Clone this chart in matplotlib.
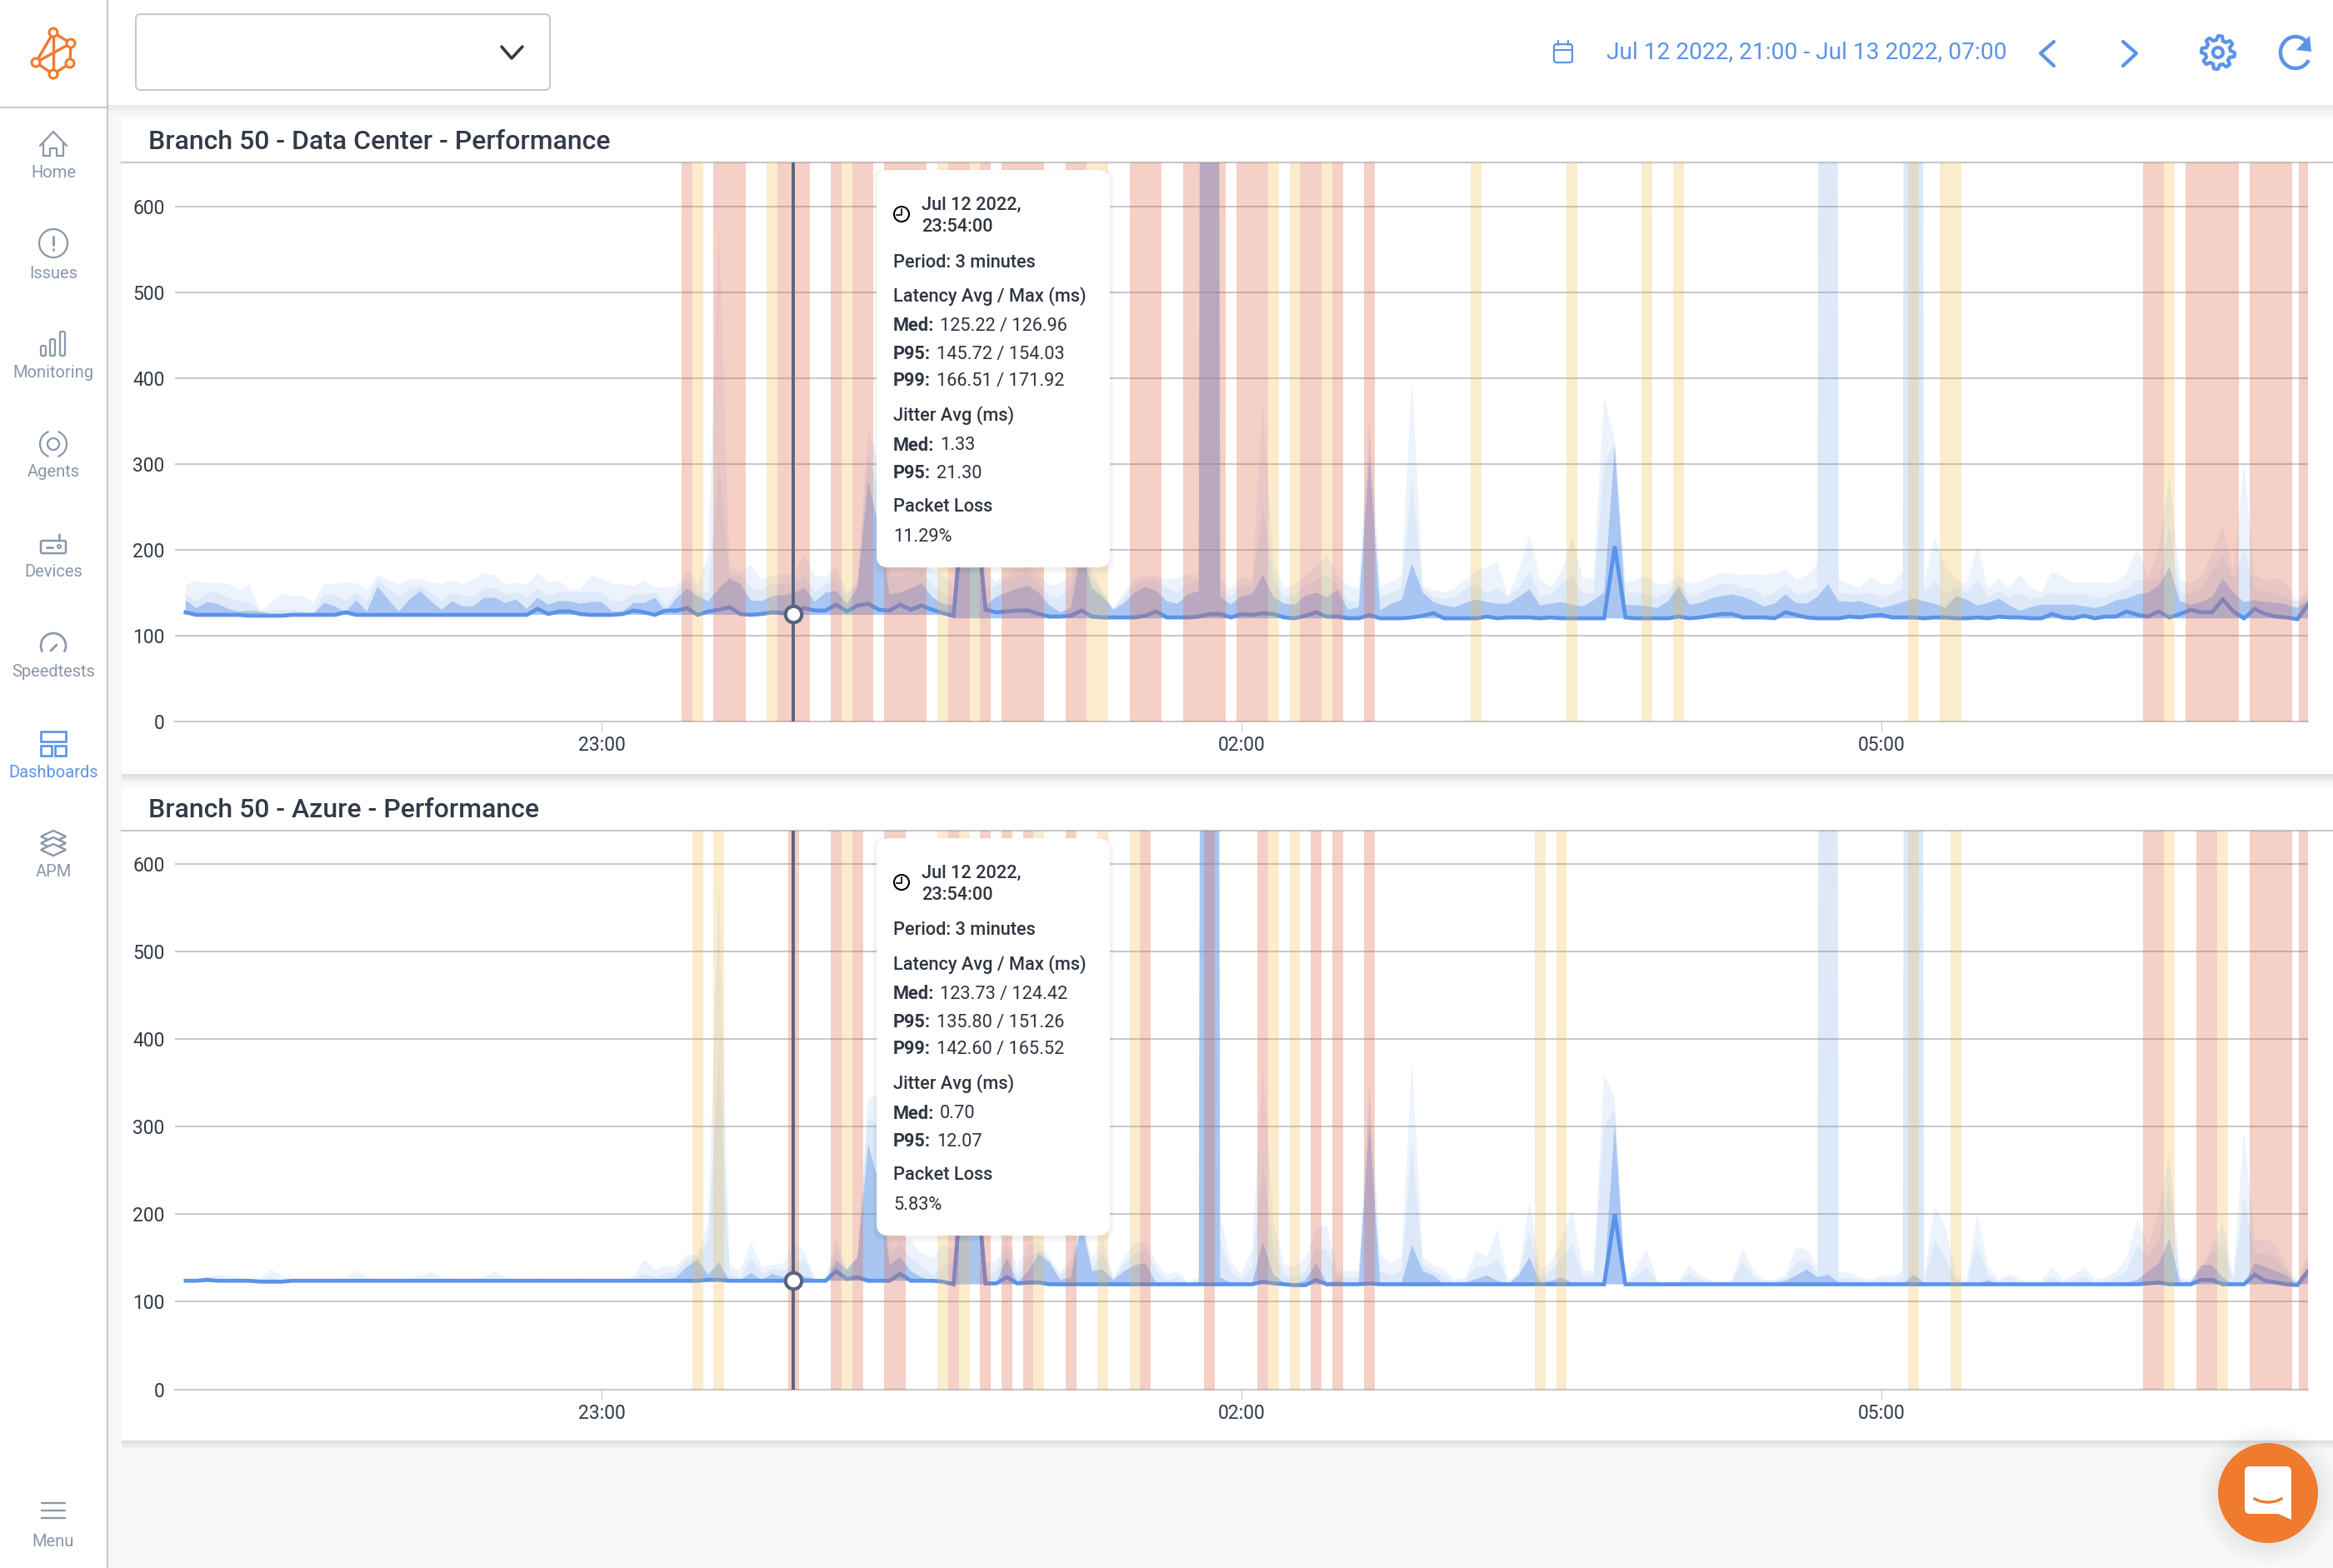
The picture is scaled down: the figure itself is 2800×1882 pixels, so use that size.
import matplotlib
matplotlib.use("Agg")
import matplotlib.pyplot as plt
from matplotlib.patches import Rectangle, Circle, FancyBboxPatch, Polygon, Arc
import numpy as np

plt.rcParams['font.family'] = ['Roboto', 'DejaVu Sans']

W, H = 2800, 1882

# sample times, minutes after 21:00
times = np.arange(3, 601, 3)

# Data Center latency, one row per hour
dc_line = [
    127,124,124,124,124,124,123,123,123,123,124,124,124,124,124,127,124,124,124,124,
    124,124,124,124,124,124,124,124,124,124,124,124,124,131,125,128,128,125,124,124,
    124,125,129,127,124,129,129,132,124,128,130,133,125,124,125,127,126,125,132,129,
    129,136,128,135,137,130,129,136,130,135,130,126,123,260,260,130,127,128,129,129,
    125,122,122,123,129,122,121,121,121,121,123,128,121,121,121,122,125,125,121,125,
    124,126,125,121,120,123,127,122,122,120,120,124,120,120,120,121,123,126,120,120,
    120,120,122,120,121,121,121,120,121,120,120,120,120,120,204,121,120,120,120,120,
    122,120,121,123,125,125,121,121,121,120,127,124,121,120,120,120,122,121,123,124,
    121,121,121,120,121,121,120,120,121,120,122,121,121,120,120,125,121,120,123,120,
    122,122,128,124,122,128,121,125,130,127,127,142,128,120,131,125,122,121,119,136,
]
dc_low = [
    141,132,139,137,131,128,129,128,125,125,125,125,125,138,134,127,141,128,157,142,
    128,142,152,140,130,140,134,134,144,144,138,142,131,144,136,140,140,137,139,139,
    128,128,138,138,144,128,143,155,146,140,155,167,160,141,140,146,147,149,156,139,
    150,152,137,156,281,225,148,150,155,161,145,137,135,300,300,135,145,150,155,158,
    150,135,127,132,200,155,145,130,138,150,157,152,140,137,148,152,6000,145,136,146,
    148,171,145,137,136,146,150,145,153,130,133,308,129,137,141,184,150,139,135,133,
    138,142,139,137,137,145,154,135,137,139,136,134,141,150,320,136,135,134,132,140,
    157,136,138,143,146,148,145,140,134,137,148,138,137,145,160,140,139,140,136,132,
    135,139,143,140,137,132,146,142,135,138,143,135,129,133,136,136,136,136,134,132,
    135,141,143,148,150,158,180,140,136,139,145,166,150,139,141,139,138,136,132,141,
]
dc_mid = [
    148,140,150,150,144,140,138,128,128,130,130,128,127,148,147,140,150,140,165,155,
    145,155,158,150,140,150,146,145,155,155,148,150,145,155,146,150,150,150,150,150,
    140,140,148,148,150,135,150,165,150,150,300,170,170,155,152,160,160,160,170,150,
    160,165,145,165,310,265,170,170,172,175,160,150,145,340,340,155,158,165,170,172,
    160,145,145,155,210,165,150,132,145,160,165,165,155,150,160,165,6000,155,145,160,
    155,250,165,145,148,158,165,170,160,140,140,330,145,150,155,280,155,145,142,145,
    155,160,150,155,145,155,175,145,148,160,170,150,148,300,325,150,150,148,145,150,
    162,145,150,155,160,160,155,155,145,150,160,148,150,155,6000,150,148,148,150,145,
    148,155,6000,150,165,148,155,150,165,145,152,145,150,142,145,150,148,148,148,145,
    145,150,155,165,165,165,225,150,148,155,175,195,165,200,155,150,150,145,138,146,
]
dc_high = [
    159,164,161,161,160,153,160,128,138,149,146,145,139,160,160,162,161,152,170,165,
    160,166,166,162,160,164,160,165,172,170,160,161,159,173,162,164,153,154,170,166,
    160,160,157,164,156,156,157,176,160,193,580,178,174,182,165,170,171,171,194,169,
    169,180,150,160,341,300,200,190,190,190,178,170,157,400,400,175,162,172,178,180,
    170,158,161,170,230,175,150,130,150,167,170,170,165,167,171,170,6000,165,155,169,
    164,373,185,155,160,170,180,194,170,158,155,355,157,162,170,401,157,153,150,155,
    165,176,180,185,146,175,218,165,157,175,215,167,165,378,329,162,165,169,160,160,
    170,160,163,168,173,172,170,172,170,172,178,165,170,183,6000,165,160,156,169,160,
    160,175,6000,160,215,180,165,160,204,155,167,155,171,155,150,174,168,162,162,162,
    161,162,173,201,170,200,287,165,160,170,195,227,175,299,170,165,167,160,141,153,
]

# Azure latency, one row per hour
az_line = [
    124,124,125,124,124,124,124,123,123,123,124,124,124,124,124,124,124,124,124,124,
    124,124,124,124,124,124,124,124,124,124,124,124,124,124,124,124,124,124,124,124,
    124,124,124,124,124,124,124,124,124,125,125,124,124,124,124,124,124,124,124,124,
    124,135,126,128,124,124,124,132,124,124,124,123,120,260,260,121,121,128,121,122,
    122,120,120,120,120,120,120,120,120,120,120,120,120,120,120,120,120,120,120,120,
    120,123,121,120,119,119,125,120,120,120,120,121,120,120,120,120,120,120,120,120,
    120,120,120,120,120,120,120,120,120,120,120,120,120,120,200,120,120,120,120,120,
    120,120,120,120,120,120,120,120,120,120,120,120,120,120,120,120,120,120,120,120,
    120,120,120,120,120,120,120,120,120,120,120,120,120,120,120,120,120,120,120,120,
    120,120,120,120,121,122,120,120,120,125,125,120,120,120,131,124,122,120,119,135,
]
az_low = [
    124,124,125,124,124,124,124,124,125,124,124,124,124,124,124,124,125,124,124,124,
    124,124,124,124,124,125,124,124,124,124,124,124,124,124,124,124,124,124,124,124,
    124,124,124,124,124,125,128,140,148,131,145,124,124,133,125,132,128,136,129,126,
    124,147,137,150,280,235,142,151,135,128,124,124,122,300,300,122,122,150,122,135,
    155,145,125,128,190,135,137,125,135,142,144,122,120,120,120,122,6000,128,122,121,
    122,169,131,122,120,125,144,122,124,121,122,304,121,120,121,165,135,130,120,120,
    122,126,130,124,120,130,151,122,124,128,122,121,120,122,304,120,120,120,120,120,
    120,120,120,120,121,120,121,120,120,122,124,130,137,128,131,122,121,122,121,120,
    120,120,131,122,121,120,122,121,121,125,120,122,120,120,120,121,120,120,120,120,
    121,121,122,125,135,144,172,122,122,142,142,128,120,121,144,140,135,130,120,137,
]
az_mid = [
    124,126,127,126,125,124,125,125,128,125,124,124,125,124,124,125,127,125,124,124,
    124,124,124,124,125,127,125,124,125,124,125,124,124,124,125,124,124,124,124,124,
    124,124,125,132,128,132,135,148,150,170,380,132,126,150,132,138,135,143,148,126,
    125,160,135,152,310,300,155,165,150,140,130,140,145,340,340,130,135,160,130,150,
    160,148,130,140,192,140,155,127,142,155,160,135,125,128,121,125,6000,170,135,125,
    140,260,160,130,128,135,160,160,130,128,128,330,135,130,135,280,142,135,128,122,
    125,140,140,150,122,132,180,128,135,150,165,130,128,300,320,121,130,140,122,121,
    122,132,126,123,122,123,145,128,123,124,127,145,148,132,6000,128,126,124,123,125,
    122,128,6000,123,170,150,125,122,165,130,122,127,122,122,122,128,122,125,128,122,
    124,128,135,165,150,170,235,125,123,140,155,165,125,220,155,155,150,135,122,146,
]
az_high = [
    124,127,129,131,130,128,126,127,137,130,126,125,126,125,126,127,136,128,125,124,
    125,127,130,134,128,125,124,126,128,135,128,126,125,127,126,125,126,127,125,126,
    125,125,128,148,137,141,141,154,153,190,572,142,135,169,140,142,144,166,158,126,
    126,172,137,153,333,335,172,175,170,155,150,165,160,400,400,144,146,174,140,165,
    169,150,134,150,195,150,171,128,150,167,170,145,131,135,122,128,6000,199,147,131,
    160,370,194,142,140,150,183,188,135,135,135,354,153,144,151,376,151,142,137,125,
    128,158,151,183,124,135,215,135,145,170,206,137,135,360,331,123,140,160,124,122,
    123,142,130,125,123,125,162,135,125,125,130,162,160,140,6000,135,133,128,125,131,
    128,135,6000,125,210,185,130,124,201,140,125,132,125,124,124,140,125,130,140,125,
    128,135,150,195,165,200,270,128,125,135,165,190,130,295,170,172,165,140,124,155,
]

# floor of the filled areas before and after the latency step
floor_early = 124
floor_late = 120
floor_step = 219

# threshold bands (start, end), minutes after 21:00
dc_red = [(142.5,145.5),(151.5,160.5),(169.5,178.5),(184.5,187.5),(190.5,196.5),(199.5,211.5),
          (217.5,223.5),(226.5,229.5),(232.5,244.5),(250.5,256.5),(268.5,277.5),(283.5,295.5),
          (298.5,307.5),(316.5,322.5),(325.5,328.5),(334.5,337.5),(553.5,559.5),(565.5,580.5),
          (583.5,595.5),(597.5,600)]
dc_yellow = [(145.5,148.5),(166.5,169.5),(187.5,190.5),(214.5,217.5),(223.5,226.5),(256.5,262.5),
             (307.5,310.5),(313.5,316.5),(322.5,325.5),(364.5,367.5),(391.5,394.5),(412.5,415.5),
             (421.5,424.5),(487.5,490.5),(496.5,502.5),(559.5,562.5)]
az_red = [(172.5,175.5),(184.5,187.5),(190.5,193.5),(199.5,205.5),(217.5,220.5),(226.5,229.5),
          (232.5,235.5),(238.5,241.5),(250.5,253.5),(271.5,274.5),(289.5,292.5),(304.5,307.5),
          (319.5,322.5),(325.5,328.5),(334.5,337.5),(553.5,559.5),(568.5,574.5),(583.5,595.5),
          (597.5,600)]
az_yellow = [(145.5,148.5),(151.5,154.5),(187.5,190.5),(214.5,217.5),(220.5,223.5),(241.5,244.5),
             (259.5,262.5),(268.5,271.5),(307.5,310.5),(313.5,316.5),(382.5,385.5),(388.5,391.5),
             (487.5,490.5),(499.5,502.5),(559.5,562.5),(574.5,577.5)]

y_ticks = [0, 100, 200, 300, 400, 500, 600]
x_ticks = [120, 300, 480]
x_tick_labels = ['23:00', '02:00', '05:00']
cursor_time = 174

dc_tip = ['125.22 / 126.96', '145.72 / 154.03', '166.51 / 171.92', '1.33', '21.30', '11.29%']
az_tip = ['123.73 / 124.42', '135.80 / 151.26', '142.60 / 165.52', '0.70', '12.07', '5.83%']

nav_items = ['Home', 'Issues', 'Monitoring', 'Agents', 'Devices', 'Speedtests', 'Dashboards', 'APM', 'Menu']
nav_label_y = [207, 328, 447, 567, 687, 807, 927, 1047, 1850]

BLUE = '#5b93e8'
GREY = '#8a97a8'
DARK = '#333b48'
RULE = '#c9c9c9'
ORANGE = '#f07a2e'
CURSOR = '#56657c'


def add_chart(top, bottom, ymax, line, low, mid, high, red, yellow):
    pos = [210 / W, 1 - bottom / H, 2560 / W, (bottom - top) / H]
    ax = fig.add_axes(pos, facecolor='none', zorder=2)
    floor = np.where(times < floor_step, floor_early, floor_late)
    ax.fill_between(times, floor, high, color=BLUE, alpha=0.11, lw=0, zorder=2)
    ax.fill_between(times, floor, mid, color=BLUE, alpha=0.10, lw=0, zorder=2)
    ax.fill_between(times, floor, low, color=BLUE, alpha=0.40, lw=0, zorder=2)
    ax.plot(times, line, color=BLUE, lw=3.4, solid_joinstyle='miter', zorder=3)
    for a, b in red:
        ax.axvspan(a, b, color='#e16446', alpha=0.30, lw=0, zorder=4)
    for a, b in yellow:
        ax.axvspan(a, b, color='#f0b43c', alpha=0.25, lw=0, zorder=4)
    ax.axvline(cursor_time, color=CURSOR, lw=2.8, zorder=5)
    i = list(times).index(cursor_time)
    ax.plot([cursor_time], [line[i]], 'o', ms=14, mfc='white', mec=CURSOR, mew=3, zorder=6)
    ax.set_xlim(0, 600)
    ax.set_ylim(0, ymax)
    ax.set_yticks(y_ticks)
    ax.set_xticks(x_ticks)
    ax.set_xticklabels(x_tick_labels)
    ax.grid(axis='y', color=RULE, lw=1.5, zorder=1)
    ax.set_axisbelow(True)
    ax.tick_params(axis='y', length=0, pad=9, labelsize=16.5, labelcolor=DARK)
    ax.tick_params(axis='x', length=8.5, width=0.8, color=RULE, pad=4, labelsize=16.5, labelcolor=DARK)
    for s in ax.spines.values():
        s.set_visible(False)
    ax.spines['bottom'].set_visible(True)
    ax.spines['bottom'].set_color(RULE)
    ax.spines['bottom'].set_linewidth(1.5)
    return ax


def shadow_strip(ax, x0, x1, y, n=6, step=2, base=0.05):
    for k in range(n):
        ax.add_patch(Rectangle((x0, y + k * step), x1 - x0, step, fc='black', ec='none',
                               alpha=base * (n - k) / n))


def add_tooltip(ax, dy, values):
    for k in range(5, 0, -1):
        ax.add_patch(FancyBboxPatch((1052 - k, 204 + dy - k + 3), 280 + 2 * k, 477 + 2 * k,
                                    boxstyle='round,pad=0,rounding_size=14', fc='black', ec='none', alpha=0.012))
    ax.add_patch(FancyBboxPatch((1052, 204 + dy), 280, 477,
                                boxstyle='round,pad=0,rounding_size=14', fc='white', ec='none'))
    # clock
    ax.add_patch(Circle((1082, 257 + dy), 9, fc='white', ec='black', lw=1.5))
    ax.plot([1082, 1082, 1076], [251 + dy, 258 + dy, 258 + dy], color='black', lw=1.2)
    fs = 15.7
    t = dict(fontsize=fs, color='#2f3540', va='center', ha='left')
    ax.text(1106, 246 + dy, 'Jul 12 2022,', fontweight='medium', **t)
    ax.text(1106, 272 + dy, '23:54:00', fontweight='medium', **t)
    ax.text(1072, 315 + dy, 'Period: 3 minutes', fontweight='medium', **t)
    ax.text(1072, 356 + dy, 'Latency Avg / Max (ms)', fontweight='medium', **t)
    for y, lab, x, val in [(391, 'Med:', 1128, values[0]), (425, 'P95:', 1124, values[1]),
                           (457, 'P99:', 1124, values[2]), (535, 'Med:', 1128, values[3]),
                           (568, 'P95:', 1124, values[4])]:
        ax.text(1072, y + dy, lab, fontweight='bold', **t)
        ax.text(x, y + dy, val, **t)
    ax.text(1072, 499 + dy, 'Jitter Avg (ms)', fontweight='medium', **t)
    ax.text(1072, 608 + dy, 'Packet Loss', fontweight='medium', **t)
    ax.text(1072, 644 + dy, values[5], **t)


def stroke(ax, xs, ys, color=GREY, lw=1.6, **kw):
    ax.plot(xs, ys, color=color, lw=lw, solid_capstyle='round', solid_joinstyle='round', **kw)


fig = plt.figure(figsize=(W / 100, H / 100), dpi=100, facecolor='#f7f8f8')

# page furniture underneath the charts
page = fig.add_axes([0, 0, 1, 1], zorder=0)
page.set_xlim(0, W)
page.set_ylim(H, 0)
page.axis('off')
page.add_patch(Rectangle((146, 142), W - 146, 787, fc='white', ec='none'))
page.add_patch(Rectangle((146, 945), W - 146, 784, fc='white', ec='none'))
shadow_strip(page, 146, W, 929, n=5, base=0.10)
shadow_strip(page, 146, W, 1729, n=5, base=0.10)
page.plot([146, W], [195, 195], color=RULE, lw=1.6)
page.plot([146, W], [997, 997], color=RULE, lw=1.6)
page.text(178, 170, 'Branch 50 - Data Center - Performance', fontsize=23, fontweight='medium',
          color=DARK, va='center', ha='left')
page.text(178, 972, 'Branch 50 - Azure - Performance', fontsize=23, fontweight='medium',
          color=DARK, va='center', ha='left')

chart_dc = add_chart(195, 865.6, 651.7, dc_line, dc_low, dc_mid, dc_high, dc_red, dc_yellow)
chart_az = add_chart(997, 1667.6, 638, az_line, az_low, az_mid, az_high, az_red, az_yellow)

# everything that sits over the charts
over = fig.add_axes([0, 0, 1, 1], zorder=3, facecolor='none')
over.set_xlim(0, W)
over.set_ylim(H, 0)
over.axis('off')
add_tooltip(over, 0, dc_tip)
add_tooltip(over, 802, az_tip)

# top bar
over.add_patch(Rectangle((129, 0), W - 129, 126, fc='white', ec='none'))
shadow_strip(over, 129, W, 126, n=6, base=0.05)
over.add_patch(FancyBboxPatch((163, 17), 497, 91, boxstyle='round,pad=0,rounding_size=6',
                              fc='white', ec=RULE, lw=1.5))
stroke(over, [602, 614, 627], [56, 70, 56], color=DARK, lw=2.6)
over.text(1928, 63, 'Jul 12 2022, 21:00 - Jul 13 2022, 07:00', fontsize=20.25, color=BLUE, va='center', ha='left')

# calendar
over.add_patch(FancyBboxPatch((1865, 53), 22, 22, boxstyle='round,pad=0,rounding_size=3', fc='none', ec=BLUE, lw=1.6))
stroke(over, [1865, 1887], [60, 60], color=BLUE, lw=1.5)
stroke(over, [1870, 1870], [49, 54], color=BLUE, lw=1.5)
stroke(over, [1882, 1882], [49, 54], color=BLUE, lw=1.5)
# arrows
stroke(over, [2465, 2449, 2465], [50, 64, 79], color=BLUE, lw=3)
stroke(over, [2548, 2564, 2548], [50, 64, 79], color=BLUE, lw=3)
# gear
angles = np.deg2rad(np.arange(0, 360, 7.5))
radii = np.where((np.arange(48) % 6) < 3, 20, 15)
gear_x = 2662 + radii * np.cos(angles)
gear_y = 63 + radii * np.sin(angles)
over.add_patch(Polygon(np.column_stack([gear_x, gear_y]), closed=True, fc='none', ec=BLUE, lw=3, joinstyle='round'))
over.add_patch(Circle((2662, 63), 6, fc='none', ec=BLUE, lw=3))
# refresh
over.add_patch(Arc((2755, 63), 36, 38, theta1=-330, theta2=-30, ec=BLUE, lw=3.2))
over.add_patch(Polygon([[2772, 43], [2774, 62], [2756, 60]], closed=True, fc=BLUE, ec='none'))

# sidebar
over.add_patch(Rectangle((0, 0), 129, H, fc='white', ec='none'))
over.plot([129, 129], [0, H], color=RULE, lw=1.6)
over.plot([0, 129], [129, 129], color=RULE, lw=1.6)
for name, y in zip(nav_items, nav_label_y):
    over.text(64, y, name, fontsize=14.5, color=BLUE if name == 'Dashboards' else GREY, va='center', ha='center')

# logo
nodes = {'a': (64, 39), 'b': (85, 52), 'c': (84, 76), 'd': (64, 89), 'e': (43, 75)}
for p, q in ['ab', 'bc', 'cd', 'de', 'ea', 'ad', 'eb']:
    stroke(over, [nodes[p][0], nodes[q][0]], [nodes[p][1], nodes[q][1]], color=ORANGE, lw=2.4)
for n in nodes.values():
    over.add_patch(Circle(n, 5, fc='white', ec=ORANGE, lw=2.2, zorder=5))

# home
stroke(over, [48, 64, 80], [175, 158, 175])
stroke(over, [52, 52, 60, 60, 68, 68, 76, 76], [172, 187, 187, 178, 178, 187, 187, 172])
# issues
over.add_patch(Circle((64, 292), 17, fc='none', ec=GREY, lw=1.6))
stroke(over, [64, 64], [284, 294], lw=2)
stroke(over, [64, 64], [299, 299.5], lw=2)
# monitoring
for x0, y0 in [(49, 415), (60, 407), (72, 398)]:
    over.add_patch(FancyBboxPatch((x0, y0), 6, 427 - y0, boxstyle='round,pad=0,rounding_size=2', fc='none', ec=GREY, lw=1.6))
# agents
over.add_patch(Circle((64, 533), 7, fc='none', ec=GREY, lw=1.6))
over.add_patch(Arc((64, 533), 32, 32, theta1=110, theta2=250, ec=GREY, lw=1.6))
over.add_patch(Arc((64, 533), 32, 32, theta1=-70, theta2=70, ec=GREY, lw=1.6))
# devices
over.add_patch(FancyBboxPatch((49, 649), 30, 15, boxstyle='round,pad=0,rounding_size=2', fc='none', ec=GREY, lw=1.8))
stroke(over, [71, 71], [641, 649], lw=1.8)
stroke(over, [56, 63], [657, 657], lw=2)
over.add_patch(Circle((71, 656), 2, fc='none', ec=GREY, lw=1.4))
# speedtests
over.add_patch(Arc((64, 775), 30, 30, theta1=150, theta2=30, ec=GREY, lw=1.9))
stroke(over, [61, 68], [781, 774], lw=2)
# dashboards
for x0, y0, w0 in [(49, 878, 30), (49, 895, 13), (66, 895, 13)]:
    over.add_patch(Rectangle((x0, y0), w0, 12, fc='none', ec=BLUE, lw=1.9))
# apm
for y0 in [1004, 1012, 1020]:
    over.add_patch(Polygon([[49, y0], [64, y0 - 7], [79, y0], [64, y0 + 7]], closed=True, fc='white', ec=GREY, lw=1.7))
# menu
for y0 in [1804, 1813, 1822]:
    stroke(over, [50, 78], [y0, y0], lw=1.7)

# chat button
for k in range(8, 0, -1):
    over.add_patch(Circle((2722, 1794), 60 + 3 * k, fc='black', ec='none', alpha=0.006))
over.add_patch(Circle((2722, 1792), 60, fc=ORANGE, ec='none'))
over.add_patch(FancyBboxPatch((2694, 1760), 56, 57, boxstyle='round,pad=0,rounding_size=6', fc='white', ec='none'))
over.add_patch(Polygon([[2730, 1815], [2750, 1824], [2750, 1810]], closed=True, fc='white', ec='none'))
over.add_patch(Arc((2722, 1790), 44, 26, theta1=25, theta2=155, ec=ORANGE, lw=2.4))

fig.savefig('out.png', dpi=100, facecolor=fig.get_facecolor())
